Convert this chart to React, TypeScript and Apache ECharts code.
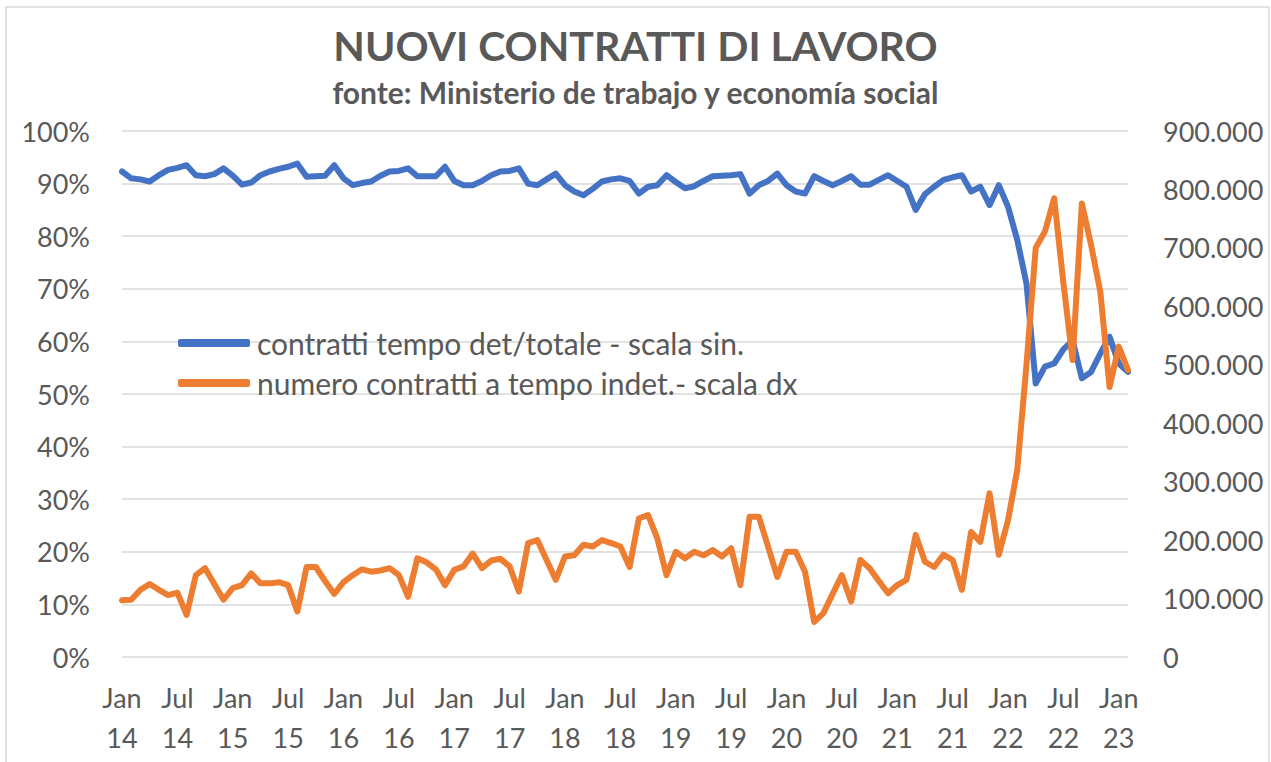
import React, { useEffect, useRef } from "react";
import * as echarts from "echarts";

const MONTHS = ["Jan", "Feb", "Mar", "Apr", "May", "Jun", "Jul", "Aug", "Sep", "Oct", "Nov", "Dec"];
const START_YEAR = 2014;
const N_POINTS = 110; // Jan 2014 .. Feb 2023

const categories: string[] = [];
for (let i = 0; i < N_POINTS; i++) {
  const m = i % 12;
  const y = START_YEAR + Math.floor(i / 12);
  categories.push(MONTHS[m] + "\n" + String(y % 100).padStart(2, "0"));
}

// share of fixed-term contracts over total (left axis)
const quotaTempoDet: number[] = [
  92.3, 91.0, 90.8, 90.4, 91.6, 92.6, 93.0, 93.5, 91.6, 91.4, 91.8, 92.9,
  91.5, 89.8, 90.2, 91.6, 92.3, 92.8, 93.2, 93.8, 91.3, 91.4, 91.5, 93.5,
  91.0, 89.7, 90.1, 90.4, 91.5, 92.3, 92.4, 92.9, 91.4, 91.4, 91.4, 93.2,
  90.5, 89.7, 89.7, 90.5, 91.6, 92.3, 92.4, 92.9, 90.0, 89.7, 90.8, 91.9,
  89.7, 88.5, 87.8, 89.0, 90.4, 90.8, 91.0, 90.5, 88.1, 89.4, 89.7, 91.6,
  90.3, 89.1, 89.5, 90.5, 91.4, 91.5, 91.6, 91.8, 88.1, 89.7, 90.5, 91.9,
  89.7, 88.5, 88.1, 91.4, 90.5, 89.7, 90.5, 91.4, 89.8, 89.8, 90.7, 91.6,
  90.5, 89.4, 85.0, 88.0, 89.4, 90.7, 91.2, 91.6, 88.5, 89.4, 85.9, 89.7,
  85.6, 79.3, 71.0, 52.0, 55.2, 55.8, 58.5, 60.2, 53.0, 54.2, 57.7, 60.9,
  55.8, 54.2,
];

// number of open-ended contracts (right axis)
const numeroIndet: number[] = [
  97000, 98000, 115000, 125000, 115000, 106000, 110000, 72000, 140000, 152000, 125000, 98000,
  118000, 123000, 143000, 126000, 126000, 128000, 123000, 78000, 154000, 154000, 130000, 108000,
  128000, 140000, 150000, 146000, 148000, 152000, 140000, 103000, 169000, 162000, 150000, 123000,
  149000, 155000, 177000, 152000, 165000, 168000, 155000, 112000, 195000, 200000, 166000, 132000,
  172000, 174000, 192000, 189000, 200000, 195000, 189000, 154000, 237000, 243000, 203000, 140000,
  180000, 169000, 180000, 174000, 183000, 172000, 186000, 123000, 240000, 240000, 189000, 137000,
  180000, 180000, 146000, 60000, 75000, 108000, 140000, 95000, 166000, 152000, 130000, 109000,
  123000, 132000, 209000, 163000, 154000, 175000, 166000, 115000, 214000, 197000, 280000, 175000,
  234000, 320000, 500000, 700000, 728000, 785000, 640000, 508000, 776000, 705000, 625000, 462000,
  531000, 491000,
];

const leftTicks = { min: 0, max: 100, interval: 10 };
const rightTicks = { min: 0, max: 900000, interval: 100000 };

const TITLE = "NUOVI CONTRATTI DI LAVORO";
const SUBTITLE = "fonte: Ministerio de trabajo y economía social";
const SERIES_NAMES = [
  "contratti tempo det/totale - scala sin.",
  "numero contratti a tempo indet.- scala dx",
];

const FONT = "Lato, 'Open Sans', sans-serif";
const TEXT = "#595959";

function fmtThousands(v: number): string {
  if (v === 0) return "0";
  return String(Math.round(v)).replace(/\B(?=(\d{3})+(?!\d))/g, ".");
}

export default function App() {
  const ref = useRef<HTMLDivElement>(null);
  useEffect(() => {
    if (!ref.current) return;
    const chart = echarts.init(ref.current, undefined, { renderer: "svg" });
    chart.setOption({
      animation: false,
      backgroundColor: "#ffffff",
      textStyle: { fontFamily: FONT },
      graphic: [
        {
          type: "rect",
          shape: { x: 6, y: 7, width: 1263, height: 770 },
          style: { fill: "none", stroke: "#d9d9d9", lineWidth: 1.5 },
          silent: true,
        },
      ],
      title: [
        {
          text: TITLE,
          left: "center",
          top: 20,
          textStyle: { fontFamily: FONT, fontSize: 41, fontWeight: "bold", color: TEXT },
        },
        {
          text: SUBTITLE,
          left: "center",
          top: 72,
          textStyle: { fontFamily: FONT, fontSize: 30, fontWeight: "bold", color: TEXT },
        },
      ],
      legend: {
        orient: "vertical",
        left: 173,
        top: 323,
        itemWidth: 72,
        itemHeight: 8,
        itemGap: 10,
        icon: "roundRect",
        textStyle: { fontFamily: FONT, fontSize: 30, lineHeight: 30, color: TEXT, padding: [0, 0, 0, 2] },
        data: SERIES_NAMES,
      },
      grid: { left: 122, right: 143, top: 131, bottom: 105, containLabel: false },
      xAxis: {
        type: "category",
        data: categories,
        boundaryGap: false,
        axisLine: { show: false },
        axisTick: { show: false },
        axisLabel: {
          interval: 5,
          fontFamily: FONT,
          fontSize: 27,
          lineHeight: 40,
          color: TEXT,
          margin: 20,
        },
        splitLine: { show: false },
      },
      yAxis: [
        {
          type: "value",
          min: leftTicks.min,
          max: leftTicks.max,
          interval: leftTicks.interval,
          axisLine: { show: false },
          axisTick: { show: false },
          axisLabel: {
            formatter: (v: number) => Math.round(v) + "%",
            fontFamily: FONT,
            fontSize: 27,
            color: TEXT,
            margin: 32,
          },
          splitLine: { show: true, lineStyle: { color: "#d9d9d9", width: 1.5 } },
        },
        {
          type: "value",
          min: rightTicks.min,
          max: rightTicks.max,
          interval: rightTicks.interval,
          axisLine: { show: false },
          axisTick: { show: false },
          axisLabel: {
            formatter: (v: number) => fmtThousands(v),
            fontFamily: FONT,
            fontSize: 27,
            color: TEXT,
            margin: 35,
          },
          splitLine: { show: false },
        },
      ],
      series: [
        {
          name: SERIES_NAMES[0],
          type: "line",
          yAxisIndex: 0,
          data: quotaTempoDet,
          showSymbol: false,
          symbol: "none",
          color: "#4472C4",
          lineStyle: { width: 6, color: "#4472C4", join: "round", cap: "round" },
        },
        {
          name: SERIES_NAMES[1],
          type: "line",
          yAxisIndex: 1,
          data: numeroIndet,
          showSymbol: false,
          symbol: "none",
          color: "#ED7D31",
          lineStyle: { width: 6, color: "#ED7D31", join: "round", cap: "round" },
        },
      ],
    });
    return () => chart.dispose();
  }, []);
  return (
    <div
      ref={ref}
      style={{ position: "fixed", left: 0, top: 0, width: 1271, height: 762 }}
    />
  );
}
